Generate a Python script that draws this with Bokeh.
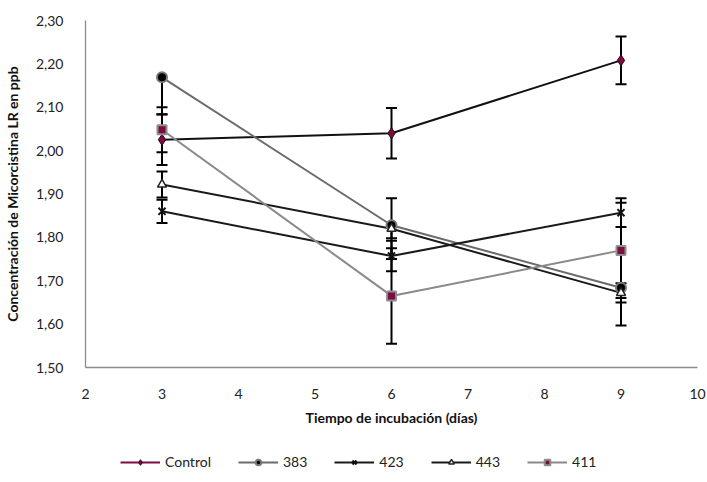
from bokeh.plotting import figure
from bokeh.models import ColumnDataSource, Legend, LegendItem, FixedTicker
from bokeh.layouts import column
from bokeh.embed import file_html
from bokeh.resources import INLINE
import math

# ---------------- data ----------------
days = [3, 6, 9]
series_names = ["Control", "383", "423", "443", "411"]
control = [2.025, 2.040, 2.208]
s383 = [2.169, 1.828, 1.684]
s423 = [1.860, 1.757, 1.857]
s443 = [1.922, 1.820, 1.672]
s411 = [2.048, 1.665, 1.770]
# error bar half-lengths (minus, plus)
err_control_minus = [0.058, 0.058, 0.055]
err_control_plus = [0.058, 0.058, 0.055]
err_383_minus = [0.085, 0.030, 0.087]
err_383_plus = [0.0, 0.0, 0.0]
err_423_minus = [0.027, 0.035, 0.033]
err_423_plus = [0.027, 0.035, 0.033]
err_443_minus = [0.030, 0.070, 0.022]
err_443_plus = [0.030, 0.070, 0.022]
err_411_minus = [0.052, 0.110, 0.110]
err_411_plus = [0.052, 0.110, 0.110]

x_ticks = [2, 3, 4, 5, 6, 7, 8, 9, 10]
x_labels = ["2", "3", "4", "5", "6", "7", "8", "9", "10"]
y_ticks = [1.5, 1.6, 1.7, 1.8, 1.9, 2.0, 2.1, 2.2, 2.3]
y_labels = ["1,50", "1,60", "1,70", "1,80", "1,90", "2,00", "2,10", "2,20", "2,30"]

x_title = "Tiempo de incubación (días)"
y_title = "Concentración de Micorcistina LR en ppb"

FONT = "Lato"
MAROON = "#7a0f3e"

p = figure(width=707, height=440, output_backend="svg", toolbar_location=None,
           x_range=(2, 10), y_range=(1.5, 2.3),
           min_border_left=83, min_border_right=10, min_border_top=20,
           min_border_bottom=73)
p.outline_line_color = None
p.xgrid.grid_line_color = None
p.ygrid.grid_line_color = None

for ax in (p.xaxis[0], p.yaxis[0]):
    ax.axis_line_color = "#8c8c8c"
    ax.axis_line_width = 1.3
    ax.major_tick_line_color = None
    ax.minor_tick_line_color = None
    ax.major_label_text_font = FONT
    ax.major_label_text_font_size = "14px"
    ax.major_label_text_color = "#222222"
    ax.axis_label_text_font = FONT
    ax.axis_label_text_font_size = "14px"
    ax.axis_label_text_font_style = "bold"
    ax.axis_label_text_color = "#111111"

p.xaxis.ticker = FixedTicker(ticks=x_ticks)
p.xaxis.major_label_overrides = {t: l for t, l in zip(x_ticks, x_labels)}
p.yaxis.ticker = FixedTicker(ticks=y_ticks)
p.yaxis.major_label_overrides = {t: l for t, l in zip(y_ticks, y_labels)}
p.xaxis.axis_label = x_title
p.yaxis.axis_label = y_title
p.xaxis.major_label_standoff = 15
p.yaxis.major_label_standoff = 16
p.xaxis.axis_label_standoff = 7
p.yaxis.axis_label_standoff = 12

series = [
    ("Control", control, err_control_minus, err_control_plus),
    ("383", s383, err_383_minus, err_383_plus),
    ("423", s423, err_423_minus, err_423_plus),
    ("443", s443, err_443_minus, err_443_plus),
    ("411", s411, err_411_minus, err_411_plus),
]
line_colors = {"Control": "#111111", "383": "#6b6b6b", "423": "#1a1a1a",
               "443": "#1a1a1a", "411": "#8a8a8a"}
legend_line_colors = {"Control": MAROON, "383": "#6b6b6b", "423": "#1a1a1a",
                      "443": "#1a1a1a", "411": "#8a8a8a"}

# lines
for name, vals, em, ep in series:
    p.line(days, vals, line_color=line_colors[name], line_width=2)

# error bars
for name, vals, em, ep in series:
    lo = [v - e for v, e in zip(vals, em)]
    hi = [v + e for v, e in zip(vals, ep)]
    src = ColumnDataSource(dict(x=days, lo=lo, hi=hi))
    p.segment(x0="x", y0="lo", x1="x", y1="hi", source=src, line_color="black", line_width=2)
    p.scatter(x="x", y="lo", source=src, marker="dash", size=11, line_color="black", line_width=2)
    if any(e > 0 for e in ep):
        p.scatter(x="x", y="hi", source=src, marker="dash", size=11, line_color="black", line_width=2)

# markers
def markers(target, x, y):
    r = {}
    r["Control"] = [target.scatter(x, y["Control"], marker="diamond", size=11,
                                   fill_color=MAROON, line_color="#2a0015", line_width=1)]
    r["383"] = [target.scatter(x, y["383"], marker="circle", size=10,
                               fill_color="black", line_color="#7a7a7a", line_width=2)]
    r["423"] = [target.scatter(x, y["423"], marker="x", size=10, line_color="#111111", line_width=2),
                target.scatter(x, y["423"], marker="dash", angle=math.pi / 2, size=11,
                               line_color="#111111", line_width=2)]
    r["443"] = [target.scatter(x, y["443"], marker="triangle", size=9,
                               fill_color="white", line_color="#222222", line_width=1.5)]
    r["411"] = [target.scatter(x, y["411"], marker="square", size=9,
                               fill_color=MAROON, line_color="#8e8e8e", line_width=2)]
    return r

yvals = {name: vals for name, vals, em, ep in series}
markers(p, days, yvals)

# ---------------- legend strip (separate figure) ----------------
# the same series are drawn into a strip whose ranges exclude them,
# so only their legend glyphs are visible
lf = figure(width=707, height=42, output_backend="svg", toolbar_location=None,
            x_range=(0, 1), y_range=(0, 1), x_axis_location=None, y_axis_location=None,
            min_border_left=0, min_border_right=0, min_border_top=0, min_border_bottom=0)
lf.outline_line_color = None
lf.xgrid.grid_line_color = None
lf.ygrid.grid_line_color = None
prox_lines = {name: lf.line(days, vals, line_color=legend_line_colors[name], line_width=2)
              for name, vals, em, ep in series}
prox_marks = markers(lf, days, yvals)
items = [LegendItem(label=n, renderers=[prox_lines[n]] + prox_marks[n]) for n in series_names]
legend = Legend(items=items, orientation="horizontal", location=(35, 12),
                label_text_font=FONT, label_text_font_size="14px", label_text_color="#222222",
                glyph_width=40, glyph_height=14, label_standoff=5, spacing=27,
                border_line_color=None, background_fill_alpha=0, padding=4, margin=0)
lf.add_layout(legend, "center")

layout = column(p, lf, spacing=0)
open("out.html", "w").write(file_html(layout, INLINE))
